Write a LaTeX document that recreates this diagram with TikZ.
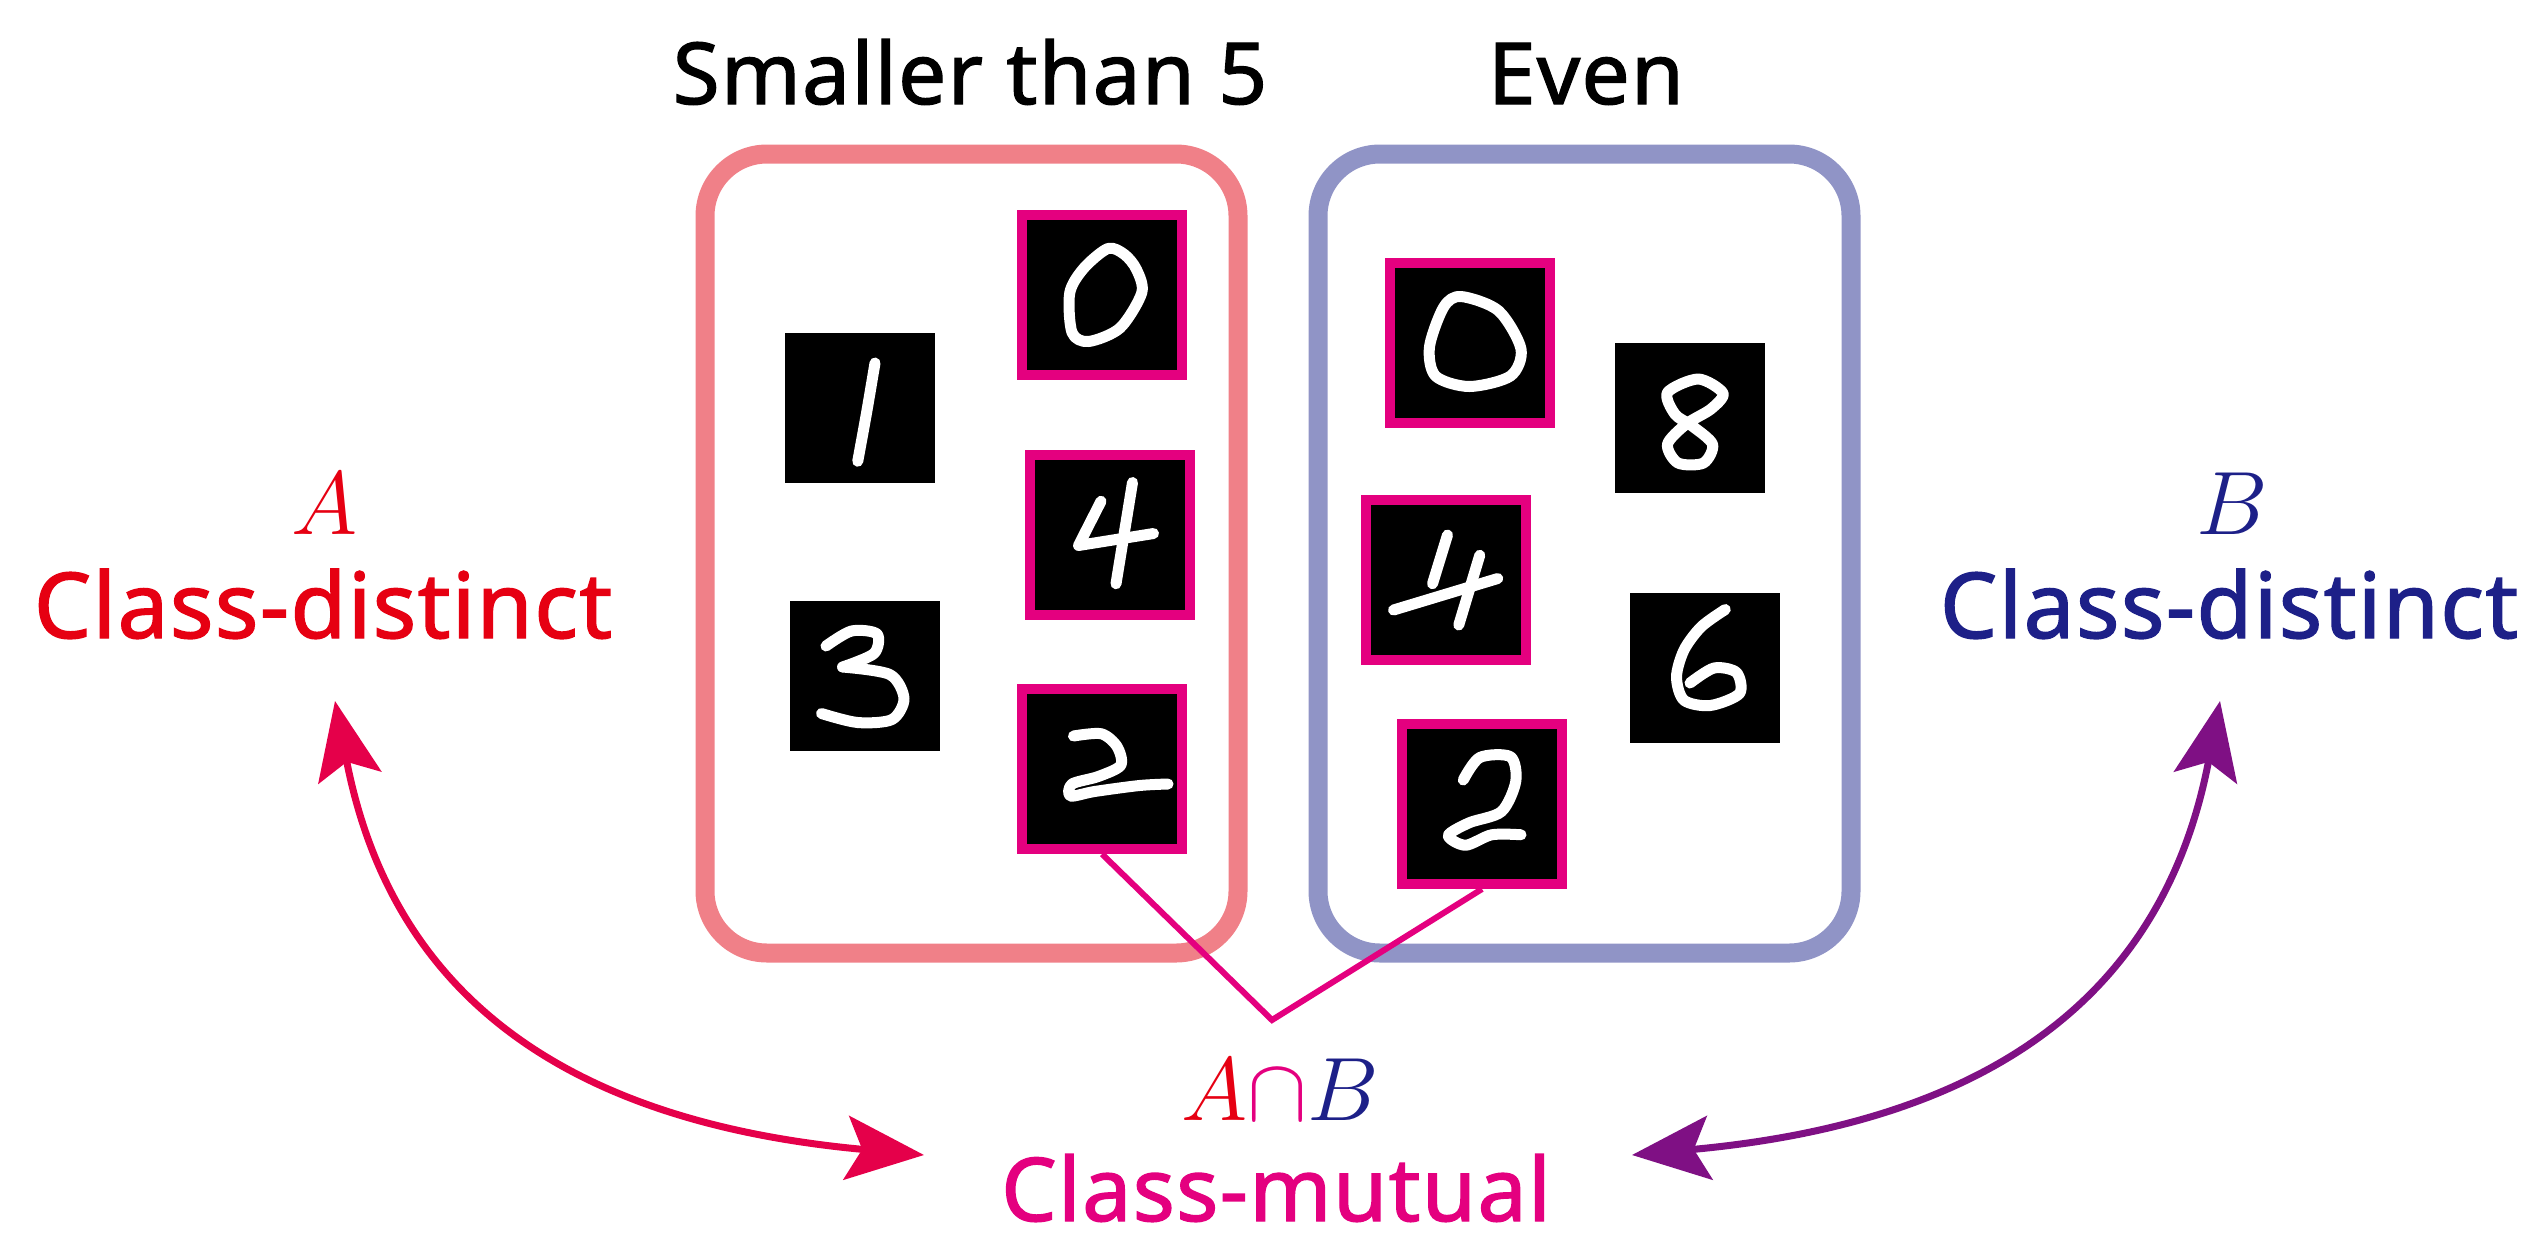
\documentclass[tikz,border=0pt]{standalone}
\usepackage{fix-cm}
\usepackage{fontspec}
\setsansfont{Noto Sans}
\newfontfamily\labfont{Noto Sans}[FakeBold=1.5, LetterSpace=1.5]
\usetikzlibrary{arrows.meta}

\definecolor{boxA}{HTML}{F08088}
\definecolor{boxB}{HTML}{9094C6}
\definecolor{mutual}{HTML}{E4007F}
\definecolor{redA}{HTML}{E60012}
\definecolor{blueB}{HTML}{1D2088}
\definecolor{arrowA}{HTML}{E5004A}
\definecolor{arrowB}{HTML}{7F1084}

\tikzset{
  setbox/.style={line width=19pt, rounded corners=62pt, minimum width=533pt, minimum height=799pt, inner sep=0pt},
  img/.style={fill=black, minimum size=150pt, inner sep=0pt, outer sep=0pt},
  imgm/.style={fill=black, draw=mutual, line width=10pt, minimum size=160pt, inner sep=0pt},
  digit/.style={white, line width=11pt, line cap=round, line join=round},
  title/.style={font=\labfont\fontsize{85.5}{100}\selectfont, inner sep=0pt, anchor=base},
  lab/.style={font=\labfont\fontsize{91}{100}\selectfont, inner sep=0pt, anchor=base},
  sym/.style={font=\fontsize{90}{100}\selectfont, inner sep=0pt, anchor=base},
  link/.style={line width=7pt, {Stealth[length=78pt, width=64pt, inset=16pt]}-{Stealth[length=78pt, width=64pt, inset=16pt]}},
}

\begin{document}
\begin{tikzpicture}[x=1pt, y=-1pt]
\useasboundingbox (0,0) rectangle (2529,1240);

% the two sets
\node[setbox, draw=boxA] (setA) at (971.5,553.5) {};
\node[setbox, draw=boxB] (setB) at (1584.5,553.5) {};
\node[title] (titleA) at (970,104) {Smaller than 5};
\node[title] (titleB) at (1586,104) {Even};

% digit images, set A
\node[img]  (a1) at (860,408) {};
\node[imgm] (a0) at (1102,295) {};
\node[imgm] (a4) at (1110,535) {};
\node[img]  (a3) at (865,676) {};
\node[imgm] (a2) at (1102,769) {};
% digit images, set B
\node[imgm] (b0) at (1470,343) {};
\node[img]  (b8) at (1690,418) {};
\node[imgm] (b4) at (1446,580) {};
\node[img]  (b6) at (1705,668) {};
\node[imgm] (b2) at (1482,804) {};

% handwritten strokes
\begin{scope}[shift={(a1.center)}, scale=75]
  \draw[digit] plot[smooth] coordinates {(0.2,-0.6) (0.09,0.05) (-0.03,0.71)};
\end{scope}
\begin{scope}[shift={(a0.center)}, scale=75]
  \draw[digit] plot[smooth cycle] coordinates {(0.08,-0.62) (-0.24,-0.36) (-0.43,-0.03) (-0.4,0.5) (-0.18,0.62) (0.24,0.44) (0.53,-0.03) (0.46,-0.34) (0.3,-0.54)};
\end{scope}
\begin{scope}[shift={(a4.center)}, scale=75]
  \draw[digit] (-0.12,-0.45) -- (-0.42,0.14) -- (0.58,-0.02);
  \draw[digit] (0.3,-0.7) -- (0.08,0.65);
\end{scope}
\begin{scope}[shift={(a3.center)}, scale=75]
  \draw[digit] plot[smooth] coordinates {(-0.52,-0.4) (-0.18,-0.6) (0.16,-0.56) (0.12,-0.3) (-0.3,-0.12)};
  \draw[digit] plot[smooth] coordinates {(-0.3,-0.12) (0.33,-0.02) (0.52,0.3) (0.36,0.58) (-0.1,0.62) (-0.58,0.5)};
\end{scope}
\begin{scope}[shift={(a2.center)}, scale=75]
  \draw[digit] plot[smooth] coordinates {(-0.38,-0.44) (-0.01,-0.47) (0.2,-0.3) (0.25,-0.05) (-0.05,0.1) (-0.4,0.2) (-0.42,0.36) (-0.1,0.3) (0.5,0.22) (0.88,0.2)};
\end{scope}
\begin{scope}[shift={(b0.center)}, scale=75]
  \draw[digit] plot[smooth cycle] coordinates {(-0.12,-0.62) (0.38,-0.43) (0.68,0.08) (0.54,0.44) (-0.01,0.58) (-0.46,0.44) (-0.54,0.05) (-0.35,-0.48)};
\end{scope}
\begin{scope}[shift={(b8.center)}, scale=75]
  \draw[digit] plot[smooth cycle] coordinates {(0.44,-0.33) (0.11,-0.52) (-0.3,-0.34) (-0.2,-0.05) (0.02,0.1) (0.3,0.35) (0.18,0.6) (-0.16,0.6) (-0.3,0.35) (-0.05,0.08) (0.28,-0.12)};
\end{scope}
\begin{scope}[shift={(b4.center)}, scale=75]
  \draw[digit] (0.02,-0.6) -- (-0.18,0.05);
  \draw[digit] (-0.7,0.4) -- (0.69,-0.02);
  \draw[digit] (0.45,-0.33) -- (0.17,0.6);
\end{scope}
\begin{scope}[shift={(b6.center)}, scale=75]
  \draw[digit] plot[smooth] coordinates {(0.27,-0.78) (-0.05,-0.55) (-0.28,-0.24) (-0.38,0.12) (-0.28,0.43) (0.07,0.5) (0.46,0.34) (0.42,0.06) (0.12,0.0) (-0.2,0.2)};
\end{scope}
\begin{scope}[shift={(b2.center)}, scale=75]
  \draw[digit] plot[smooth] coordinates {(-0.25,-0.32) (-0.03,-0.62) (0.38,-0.63) (0.45,-0.3) (0.26,0.1) (-0.17,0.25) (-0.45,0.42) (-0.22,0.55) (0.13,0.41) (0.52,0.41)};
\end{scope}

% shared digits lead to the mutual label
\coordinate (meet) at (1272,1020);
\draw[mutual, line width=6pt] (a2.south) -- (meet) -- (b2.south);

% labels
\node[sym, text=redA] (symA) at (325,534) {$A$};
\node[lab, text=redA] (distA) at (323,638) {Class-distinct};
\node[sym, text=blueB] (symB) at (2232,534) {$B$};
\node[lab, text=blueB] (distB) at (2229,638) {Class-distinct};
\node[sym] (symAB) at (1280,1120) {$\textcolor{redA}{A}\textcolor{mutual}{\cap}\textcolor{blueB}{B}$};
\node[lab, text=mutual, font=\labfont\fontsize{88}{100}\selectfont] (mut) at (1276,1221) {Class-mutual};

% double-headed arrows
\coordinate (tipA) at (335,701);
\coordinate (tipAm) at (924,1155);
\coordinate (tipB) at (2220,701);
\coordinate (tipBm) at (1632,1155);
\draw[link, arrowA] (tipA) .. controls (392,995) and (565,1122) .. (tipAm);
\draw[link, arrowB] (tipB) .. controls (2164,995) and (1991,1122) .. (tipBm);
\end{tikzpicture}
\end{document}
